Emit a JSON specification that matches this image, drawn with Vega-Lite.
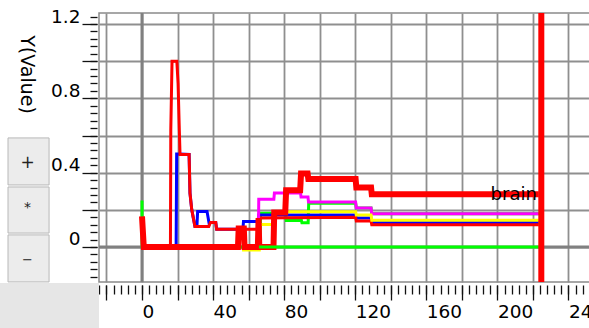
{
  "$schema": "https://vega.github.io/schema/vega-lite/v6.json",
  "width": 491,
  "height": 269,
  "autosize": {"type": "none"},
  "padding": {"left": 99, "top": 13, "right": 0, "bottom": 46},
  "background": "white",
  "config": {
    "view": {"stroke": "#8a8a8a", "strokeWidth": 1.5},
    "font": "DejaVu Sans",
    "axis": {
      "labelFont": "DejaVu Sans", "titleFont": "DejaVu Sans", "labelColor": "#000", "tickColor": "#111",
      "domain": false, "labelFontSize": 18.5, "tickWidth": 1.3, "gridColor": "#8f8f8f", "gridWidth": 1.8,
      "gridOpacity": 1, "labelOverlap": false, "labelFlush": false, "labelBound": false
    }
  },
  "datasets": {
    "series": [
      {"s": "green2", "x": 0, "y": 0.25}, {"s": "green2", "x": 0.1, "y": 0}, {"s": "green2", "x": 66.4, "y": 0}, {"s": "green2", "x": 66.7, "y": 0.182}, {"s": "green2", "x": 80.9, "y": 0.182}, {"s": "green2", "x": 81.2, "y": 0.143}, {"s": "green2", "x": 89.7, "y": 0.143}, {"s": "green2", "x": 90.0, "y": 0.13}, {"s": "green2", "x": 93.5, "y": 0.13}, {"s": "green2", "x": 93.8, "y": 0.236}, {"s": "green2", "x": 120.2, "y": 0.236}, {"s": "green2", "x": 120.6, "y": 0.21}, {"s": "green2", "x": 128.9, "y": 0.21}, {"s": "green2", "x": 129.3, "y": 0.179}, {"s": "green2", "x": 223.3, "y": 0.179},
      {"s": "blue", "x": 0, "y": 0}, {"s": "blue", "x": 19.2, "y": 0}, {"s": "blue", "x": 19.5, "y": 0.5}, {"s": "blue", "x": 21.2, "y": 0.5}, {"s": "blue", "x": 26.5, "y": 0.498}, {"s": "blue", "x": 27.0, "y": 0.29}, {"s": "blue", "x": 28.0, "y": 0.2}, {"s": "blue", "x": 29.8, "y": 0.11}, {"s": "blue", "x": 30.9, "y": 0.11}, {"s": "blue", "x": 31.3, "y": 0.191}, {"s": "blue", "x": 36.6, "y": 0.191}, {"s": "blue", "x": 37.8, "y": 0.125}, {"s": "blue", "x": 38.5, "y": 0.132}, {"s": "blue", "x": 41.5, "y": 0.132}, {"s": "blue", "x": 42.0, "y": 0.096}, {"s": "blue", "x": 56.8, "y": 0.096}, {"s": "blue", "x": 57.1, "y": 0.137}, {"s": "blue", "x": 65.4, "y": 0.137}, {"s": "blue", "x": 65.7, "y": 0.172}, {"s": "blue", "x": 120.2, "y": 0.172}, {"s": "blue", "x": 120.6, "y": 0.156}, {"s": "blue", "x": 128.9, "y": 0.156}, {"s": "blue", "x": 129.3, "y": 0.132}, {"s": "blue", "x": 223.3, "y": 0.132},
      {"s": "red", "x": 0, "y": 0}, {"s": "red", "x": 16.0, "y": 0}, {"s": "red", "x": 16.2, "y": 0.63}, {"s": "red", "x": 16.9, "y": 1.0}, {"s": "red", "x": 19.6, "y": 1.0}, {"s": "red", "x": 20.3, "y": 0.88}, {"s": "red", "x": 21.0, "y": 0.63}, {"s": "red", "x": 21.4, "y": 0.498}, {"s": "red", "x": 26.5, "y": 0.498}, {"s": "red", "x": 27.0, "y": 0.29}, {"s": "red", "x": 28.0, "y": 0.2}, {"s": "red", "x": 29.8, "y": 0.11}, {"s": "red", "x": 37.6, "y": 0.11}, {"s": "red", "x": 38.5, "y": 0.132}, {"s": "red", "x": 41.5, "y": 0.132}, {"s": "red", "x": 42.0, "y": 0.096}, {"s": "red", "x": 65.2, "y": 0.096}, {"s": "red", "x": 65.5, "y": 0.156}, {"s": "red", "x": 120.2, "y": 0.16}, {"s": "red", "x": 120.6, "y": 0.14}, {"s": "red", "x": 128.9, "y": 0.14}, {"s": "red", "x": 129.3, "y": 0.12}, {"s": "red", "x": 223.3, "y": 0.12},
      {"s": "magenta", "x": 65.6, "y": 0.15}, {"s": "magenta", "x": 65.7, "y": 0.257}, {"s": "magenta", "x": 74.2, "y": 0.257}, {"s": "magenta", "x": 74.5, "y": 0.29}, {"s": "magenta", "x": 89.2, "y": 0.29}, {"s": "magenta", "x": 89.5, "y": 0.269}, {"s": "magenta", "x": 93.4, "y": 0.269}, {"s": "magenta", "x": 93.7, "y": 0.242}, {"s": "magenta", "x": 120.2, "y": 0.242}, {"s": "magenta", "x": 120.6, "y": 0.21}, {"s": "magenta", "x": 128.9, "y": 0.21}, {"s": "magenta", "x": 129.3, "y": 0.179}, {"s": "magenta", "x": 223.3, "y": 0.179},
      {"s": "yellow", "x": 56.3, "y": -0.016}, {"s": "yellow", "x": 66.0, "y": -0.016}, {"s": "yellow", "x": 66.2, "y": 0.121}, {"s": "yellow", "x": 74.2, "y": 0.121}, {"s": "yellow", "x": 74.5, "y": 0.19}, {"s": "yellow", "x": 120.2, "y": 0.19}, {"s": "yellow", "x": 120.6, "y": 0.172}, {"s": "yellow", "x": 128.9, "y": 0.172}, {"s": "yellow", "x": 129.3, "y": 0.144}, {"s": "yellow", "x": 223.3, "y": 0.144},
      {"s": "brain", "x": 0, "y": 0.165}, {"s": "brain", "x": 1.0, "y": 0}, {"s": "brain", "x": 54.0, "y": 0}, {"s": "brain", "x": 54.4, "y": 0.1}, {"s": "brain", "x": 57.3, "y": 0.1}, {"s": "brain", "x": 57.7, "y": 0}, {"s": "brain", "x": 65.2, "y": 0}, {"s": "brain", "x": 65.6, "y": 0.155}, {"s": "brain", "x": 66.0, "y": 0}, {"s": "brain", "x": 74.0, "y": 0}, {"s": "brain", "x": 74.4, "y": 0.185}, {"s": "brain", "x": 80.6, "y": 0.185}, {"s": "brain", "x": 81.1, "y": 0.305}, {"s": "brain", "x": 89.0, "y": 0.305}, {"s": "brain", "x": 89.5, "y": 0.395}, {"s": "brain", "x": 93.2, "y": 0.395}, {"s": "brain", "x": 93.6, "y": 0.366}, {"s": "brain", "x": 120.2, "y": 0.366}, {"s": "brain", "x": 120.6, "y": 0.32}, {"s": "brain", "x": 128.9, "y": 0.32}, {"s": "brain", "x": 129.3, "y": 0.284}, {"s": "brain", "x": 223.3, "y": 0.284},
      {"s": "green", "x": 65.8, "y": 0}, {"s": "green", "x": 223.3, "y": 0}
    ]
  },
  "layer": [
    {
      "data": {"values": [{}]},
      "mark": {"type": "rect", "fill": "#e6e6e6"},
      "encoding": {
        "x": {"datum": -80, "type": "quantitative", "scale": {"domain": [-24.2, 252.1], "nice": false, "zero": false}, "axis": null},
        "x2": {"datum": -24.2},
        "y": {"datum": -0.194, "type": "quantitative", "scale": {"domain": [-0.1884, 1.2594], "nice": false, "zero": false}, "axis": null},
        "y2": {"datum": -0.45}
      }
    },
    {
      "data": {"values": [{}]},
      "mark": {"type": "rect", "fill": "#ececec", "stroke": "#b8b8b8", "strokeWidth": 1},
      "encoding": {
        "x": {"datum": -75.4, "type": "quantitative", "scale": {"domain": [-24.2, 252.1], "nice": false, "zero": false}, "axis": null},
        "x2": {"datum": -52.3},
        "y": {"datum": 0.587, "type": "quantitative", "scale": {"domain": [-0.1884, 1.2594], "nice": false, "zero": false}, "axis": null},
        "y2": {"datum": 0.334}
      }
    },
    {
      "data": {"values": [{}]},
      "mark": {"type": "rect", "fill": "#ececec", "stroke": "#b8b8b8", "strokeWidth": 1},
      "encoding": {
        "x": {"datum": -75.4, "type": "quantitative", "scale": {"domain": [-24.2, 252.1], "nice": false, "zero": false}, "axis": null},
        "x2": {"datum": -52.3},
        "y": {"datum": 0.323, "type": "quantitative", "scale": {"domain": [-0.1884, 1.2594], "nice": false, "zero": false}, "axis": null},
        "y2": {"datum": 0.075}
      }
    },
    {
      "data": {"values": [{}]},
      "mark": {"type": "rect", "fill": "#ececec", "stroke": "#b8b8b8", "strokeWidth": 1},
      "encoding": {
        "x": {"datum": -75.4, "type": "quantitative", "scale": {"domain": [-24.2, 252.1], "nice": false, "zero": false}, "axis": null},
        "x2": {"datum": -52.3},
        "y": {"datum": 0.065, "type": "quantitative", "scale": {"domain": [-0.1884, 1.2594], "nice": false, "zero": false}, "axis": null},
        "y2": {"datum": -0.188}
      }
    },
    {
      "data": {"values": [{}]},
      "mark": {"type": "text", "text": "+", "fontSize": 17, "color": "#222", "baseline": "middle", "align": "center"},
      "encoding": {
        "x": {"datum": -64.4, "type": "quantitative", "scale": {"domain": [-24.2, 252.1], "nice": false, "zero": false}, "axis": null},
        "y": {"datum": 0.454, "type": "quantitative", "scale": {"domain": [-0.1884, 1.2594], "nice": false, "zero": false}, "axis": null}
      }
    },
    {
      "data": {"values": [{}]},
      "mark": {"type": "text", "text": "*", "fontSize": 14, "color": "#222", "baseline": "middle", "align": "center"},
      "encoding": {
        "x": {"datum": -64.4, "type": "quantitative", "scale": {"domain": [-24.2, 252.1], "nice": false, "zero": false}, "axis": null},
        "y": {"datum": 0.21, "type": "quantitative", "scale": {"domain": [-0.1884, 1.2594], "nice": false, "zero": false}, "axis": null}
      }
    },
    {
      "data": {"values": [{}]},
      "mark": {"type": "text", "text": "−", "fontSize": 13, "color": "#222", "baseline": "middle", "align": "center"},
      "encoding": {
        "x": {"datum": -64.4, "type": "quantitative", "scale": {"domain": [-24.2, 252.1], "nice": false, "zero": false}, "axis": null},
        "y": {"datum": -0.07, "type": "quantitative", "scale": {"domain": [-0.1884, 1.2594], "nice": false, "zero": false}, "axis": null}
      }
    },
    {
      "data": {"values": [{}]},
      "mark": {"type": "rule", "color": "#808080", "strokeWidth": 3},
      "encoding": {
        "x": {"datum": 0, "type": "quantitative", "scale": {"domain": [-24.2, 252.1], "nice": false, "zero": false},
          "axis": {"orient": "bottom", "offset": 3, "values": [-24,-20,-16,-12,-8,-4,0,4,8,12,16,20,24,28,32,36,40,44,48,52,56,60,64,68,72,76,80,84,88,92,96,100,104,108,112,116,120,124,128,132,136,140,144,148,152,156,160,164,168,172,176,180,184,188,192,196,200,204,208,212,216,220,224,228,232,236,240,244,248,252],
            "tickSize": 9, "labels": false, "grid": false, "title": null}}
      }
    },
    {
      "data": {"values": [{}]},
      "mark": {"type": "rule", "color": "#808080", "strokeWidth": 3},
      "encoding": {
        "y": {"datum": 0, "type": "quantitative", "scale": {"domain": [-0.1884, 1.2594], "nice": false, "zero": false},
          "axis": {"orient": "left", "offset": 2, "values": [-0.16,-0.12,-0.08,-0.04,0,0.04,0.08,0.12,0.16,0.2,0.24,0.28,0.32,0.36,0.4,0.44,0.48,0.52,0.56,0.6,0.64,0.68,0.72,0.76,0.8,0.84,0.88,0.92,0.96,1,1.04,1.08,1.12,1.16,1.2,1.24],
            "tickSize": 7, "labels": false, "grid": false, "title": null}}
      }
    },
    {
      "data": {"name": "series"},
      "encoding": {
        "x": {"field": "x", "type": "quantitative", "scale": {"domain": [-24.2, 252.1], "nice": false, "zero": false},
          "axis": {"orient": "bottom", "offset": 3, "values": [-20,0,20,40,60,80,100,120,140,160,180,200,220,240], "tickSize": 15, "grid": true,
            "labelAlign": "left", "labelBaseline": "top", "labelPadding": 2,
            "labelExpr": "datum.value % 40 == 0 ? format(datum.value, 'd') : ''", "title": null}},
        "y": {"field": "y", "type": "quantitative", "scale": {"domain": [-0.1884, 1.2594], "nice": false, "zero": false},
          "axis": {"orient": "left", "offset": 2, "values": [0,0.2,0.4,0.6,0.8,1,1.2], "tickSize": 15, "grid": true,
            "labelAlign": "right", "labelBaseline": "alphabetic", "labelPadding": 2, "labelOffset": -2,
            "labelExpr": "abs(datum.value*2.5 - round(datum.value*2.5)) < 0.01 ? (datum.value == 0 ? '0' : format(datum.value, '.1f')) : ''",
            "title": "Y(Value)", "titleAngle": 90, "titleFontSize": 19, "titleFontWeight": "normal", "titleColor": "#000",
            "titleAlign": "center", "titleBaseline": "middle", "titleX": -71, "titleY": 61}}
      },
      "layer": [
        {"transform": [{"filter": "datum.s == 'green2'"}], "mark": {"type": "line", "color": "#00ff00", "strokeWidth": 3}},
        {"transform": [{"filter": "datum.s == 'blue'"}], "mark": {"type": "line", "color": "#0000ff", "strokeWidth": 3}},
        {"transform": [{"filter": "datum.s == 'red'"}], "mark": {"type": "line", "color": "#ff0000", "strokeWidth": 3}},
        {"transform": [{"filter": "datum.s == 'magenta'"}], "mark": {"type": "line", "color": "#ff00ff", "strokeWidth": 3}},
        {"transform": [{"filter": "datum.s == 'yellow'"}], "mark": {"type": "line", "color": "#ffff00", "strokeWidth": 3}},
        {"transform": [{"filter": "datum.s == 'brain'"}], "mark": {"type": "line", "color": "#ff0000", "strokeWidth": 6}},
        {"transform": [{"filter": "datum.s == 'green'"}], "mark": {"type": "line", "color": "#00ff00", "strokeWidth": 3}},
        {"transform": [{"filter": "datum.s == 'brain' && datum.x == 223.3"}],
          "mark": {"type": "text", "align": "right", "baseline": "alphabetic", "dx": -2, "dy": 6, "fontSize": 18, "color": "#000"},
          "encoding": {"text": {"field": "s"}}}
      ]
    },
    {
      "data": {"values": [{}]},
      "mark": {"type": "rule", "color": "#ff0000", "strokeWidth": 6},
      "encoding": {
        "x": {"datum": 224.7, "type": "quantitative", "scale": {"domain": [-24.2, 252.1], "nice": false, "zero": false}, "axis": null}
      }
    }
  ],
  "resolve": {"axis": {"x": "independent", "y": "independent"}}
}
